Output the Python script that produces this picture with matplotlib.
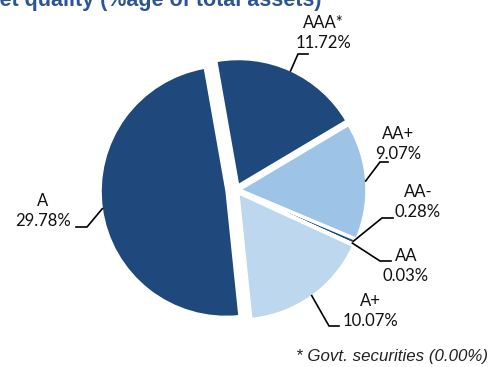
import numpy as np
import matplotlib.pyplot as plt

labels = ["AAA*", "AA+", "AA-", "AA", "A+", "A"]
values = [11.72, 9.07, 0.28, 0.03, 10.07, 29.78]
pct_text = ["11.72%", "9.07%", "0.28%", "0.03%", "10.07%", "29.78%"]
colors = ["#1F497D", "#9DC3E6", "#1F497D", "#1F497D", "#BDD7EE", "#1F497D"]
# explode offsets in pixels (matplotlib uses data units)
explode = [6, 5, 3, 3, 5, 10]

# label layout in pixel coords (y from top): elbow, line end, text centre
elbows = [(298, 54), (380, 162), (382, 218), (380, 261), (329, 326), (87, 227)]
ends = [(308, 54), (388, 162), (393, 218), (391, 261), (339, 326), (76, 227)]
text_pos = [(323, 33), (398, 144), (418, 202), (406, 266), (370, 311), (43, 211)]

H = 367

fig = plt.figure(figsize=(5.02, 3.67), dpi=100)
ax = fig.add_axes([0, 0, 1, 1])

wedges, _ = ax.pie(values, colors=colors, startangle=100, counterclock=False,
                   center=(236, H - 190), radius=125, explode=explode,
                   wedgeprops=dict(edgecolor="white", linewidth=1.0))
ax.set_xlim(0, 502)
ax.set_ylim(0, H)
ax.set_aspect("equal")
ax.axis("off")

for w, lab, pct, el, en, tp in zip(wedges, labels, pct_text, elbows, ends, text_pos):
    ang = np.deg2rad((w.theta1 + w.theta2) / 2)
    cx, cy = w.center
    sx = cx + w.r * np.cos(ang)
    sy = cy + w.r * np.sin(ang)
    ax.plot([sx, el[0], en[0]], [sy, H - el[1], H - en[1]], color="black", lw=1.2,
            solid_joinstyle="miter")
    ax.text(tp[0], H - tp[1], lab + "\n" + pct, ha="center", va="center",
            fontsize=12, family="Lato", linespacing=1.25, color="#111111")

# title is cut off at the top edge, as in the original
fig.text(322 / 502, 1 - 6 / H, "Asset quality (%age of total assets)", ha="right",
         va="baseline", fontsize=15.5, fontweight="bold", family="Liberation Sans",
         color="#2E5593")
fig.text(488 / 502, 1 - 356 / H, "* Govt. securities (0.00%)", ha="right", va="center",
         fontsize=12.2, style="italic", family="Liberation Sans", color="#222222")

fig.savefig("out.png", dpi=100)
